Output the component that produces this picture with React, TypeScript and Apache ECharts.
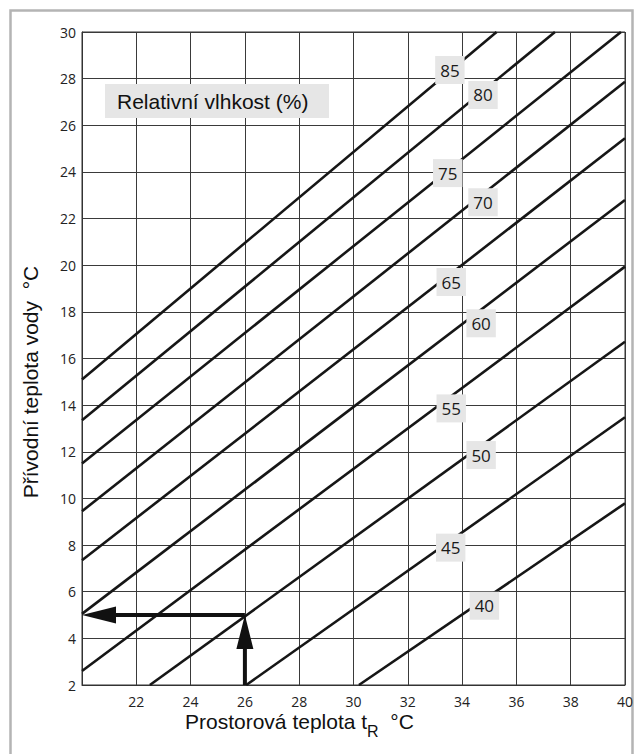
import React, { useEffect, useRef } from "react";
import * as echarts from "echarts";

// Relative humidity curves (%), each drawn as a straight segment
const humidityLevels = ["85", "80", "75", "70", "65", "60", "55", "50", "45", "40"];
const lineStartX = [20, 20, 20, 20, 20, 20, 20, 22.5, 26.05, 30.2];
const lineStartY = [15.1, 13.35, 11.5, 9.45, 7.35, 5.05, 2.6, 2, 2, 2];
const lineEndX = [35.27, 37.42, 39.85, 40, 40, 40, 40, 40, 40, 40];
const lineEndY = [30, 30, 30, 27.87, 25.44, 22.8, 19.94, 16.72, 13.48, 9.79];
// label anchor points (data coordinates)
const labelX = [33.55, 34.77, 33.47, 34.77, 33.6, 34.7, 33.6, 34.7, 33.58, 34.82];
const labelY = [28.37, 27.3, 23.95, 22.7, 19.28, 17.51, 13.86, 11.86, 7.89, 5.4];
// reading example arrows: [x0, y0, x1, y1]
const arrowSegments = [
  [26, 2, 26, 5],
  [26, 5, 20, 5],
];
const xMin = 20, xMax = 40, xStep = 2;
const yMin = 2, yMax = 30, yStep = 2;

const legendTitle = "Relativní vlhkost (%)";
const yTitle = "Přívodní teplota vody \u00a0°C";

export default function App() {
  const ref = useRef<HTMLDivElement>(null);
  useEffect(() => {
    document.body.style.margin = "0";
    if (!ref.current) return;
    const chart = echarts.init(ref.current, null, { renderer: "svg" });
    const lineSeries = humidityLevels.map((h, i) => ({
      type: "line",
      name: h + "%",
      data: [
        [lineStartX[i], lineStartY[i]],
        [lineEndX[i], lineEndY[i]],
      ],
      symbol: "none",
      silent: true,
      z: 2,
      lineStyle: { color: "#161616", width: 2.6 },
    }));
    chart.setOption({
      animation: false,
      backgroundColor: "#ffffff",
      grid: {
        left: 82,
        top: 32,
        right: 18,
        bottom: 69,
        show: true,
        borderColor: "#333",
        borderWidth: 1,
        outerBoundsMode: "none",
      },
      xAxis: {
        type: "value",
        min: xMin,
        max: xMax,
        interval: xStep,
        axisLine: { show: true, lineStyle: { color: "#333", width: 1 } },
        axisTick: { show: false },
        axisLabel: {
          formatter: (v: number) => (v === xMin ? "" : String(v)),
          color: "#222",
          fontFamily: "Open Sans",
          fontSize: 14,
          margin: 9,
        },
        splitLine: { show: true, lineStyle: { color: "#3a3a3a", width: 1 } },
      },
      yAxis: {
        type: "value",
        min: yMin,
        max: yMax,
        interval: yStep,
        axisLine: { show: true, lineStyle: { color: "#333", width: 1 } },
        axisTick: { show: false },
        axisLabel: {
          color: "#222",
          fontFamily: "Open Sans",
          fontSize: 14,
          margin: 6,
        },
        splitLine: { show: true, lineStyle: { color: "#3a3a3a", width: 1 } },
      },
      graphic: [
        {
          type: "rect",
          shape: { x: 10.5, y: 10.5, width: 622, height: 800 },
          style: { fill: "none", stroke: "#b4b4b4", lineWidth: 2.5 },
          z: 0,
        },
        {
          type: "rect",
          shape: { x: 105, y: 84, width: 224, height: 34 },
          style: { fill: "#e6e6e6" },
          z: 5,
        },
        {
          type: "text",
          x: 117,
          y: 101,
          style: {
            text: legendTitle,
            fill: "#111",
            font: '21px "Liberation Sans", Arial, sans-serif',
            verticalAlign: "middle",
            align: "left",
          },
          z: 6,
        },
        {
          type: "text",
          x: 30,
          y: 382,
          rotation: Math.PI / 2,
          style: {
            text: yTitle,
            fill: "#111",
            font: '21px "Liberation Sans", Arial, sans-serif',
            verticalAlign: "middle",
            align: "center",
          },
        },
        {
          type: "text",
          x: 185,
          y: 721,
          style: {
            text: "Prostorová teplota t{sub|R}\u00a0 °C",
            fill: "#111",
            fontFamily: '"Liberation Sans", Arial, sans-serif',
            fontSize: 21,
            lineHeight: 36,
            verticalAlign: "middle",
            align: "left",
            rich: {
              sub: {
                fontFamily: '"Liberation Sans", Arial, sans-serif',
                fontSize: 16,
                lineHeight: 16,
                verticalAlign: "bottom",
                fill: "#111",
              },
            },
          },
        },
      ],
      series: [
        ...lineSeries,
        {
          type: "custom",
          name: "arrows",
          silent: true,
          z: 3,
          encode: { x: [0, 2], y: [1, 3] },
          data: arrowSegments,
          renderItem: (params: any, api: any) => {
            const p0 = api.coord([api.value(0), api.value(1)]);
            const p1 = api.coord([api.value(2), api.value(3)]);
            const dx = p1[0] - p0[0];
            const dy = p1[1] - p0[1];
            const len = Math.hypot(dx, dy) || 1;
            const ux = dx / len;
            const uy = dy / len;
            const hl = 34;
            const hw = 8.5;
            const bx = p1[0] - ux * hl;
            const by = p1[1] - uy * hl;
            return {
              type: "group",
              children: [
                {
                  type: "line",
                  shape: { x1: p0[0], y1: p0[1], x2: bx + ux * 2, y2: by + uy * 2 },
                  style: { stroke: "#111", lineWidth: 4 },
                },
                {
                  type: "polygon",
                  shape: {
                    points: [
                      [p1[0], p1[1]],
                      [bx - uy * hw, by + ux * hw],
                      [bx + uy * hw, by - ux * hw],
                    ],
                  },
                  style: { fill: "#111" },
                },
              ],
            };
          },
        },
        {
          type: "scatter",
          name: "labels",
          silent: true,
          z: 4,
          symbolSize: 0,
          itemStyle: { color: "#000", opacity: 1 },
          data: humidityLevels.map((h, i) => ({ name: h, value: [labelX[i], labelY[i]] })),
          label: {
            show: true,
            position: "inside",
            formatter: "{b}",
            color: "#1a1a1a",
            opacity: 1,
            fontFamily: "Open Sans",
            fontSize: 17,
            lineHeight: 19,
            backgroundColor: "#e6e6e6",
            padding: [5, 5, 4, 5],
          },
        },
      ],
    });
    return () => chart.dispose();
  }, []);
  return <div ref={ref} style={{ width: 643, height: 754 }} />;
}
